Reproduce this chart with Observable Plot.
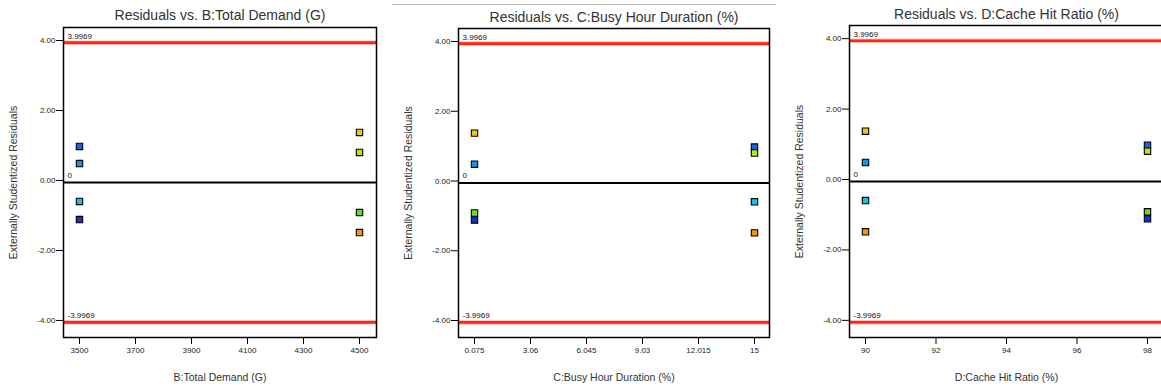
<!DOCTYPE html>
<html>
<head>
<meta charset="utf-8">
<script src="https://cdn.jsdelivr.net/npm/d3@7"></script>
<script src="https://cdn.jsdelivr.net/npm/@observablehq/plot@0.6"></script>
<style>
  html, body { margin: 0; padding: 0; background: #fff; overflow: hidden; }
  #wrap { position: relative; width: 1161px; height: 387px; overflow: hidden; }
  .panel { position: absolute; top: 0; }
  .panel svg { max-width: none !important; }
  .topline { position: absolute; top: 4px; left: 392px; width: 384px; height: 1px; background: #b8b8b8; }
</style>
</head>
<body>
<div id="wrap"><div class="topline"></div></div>
<script>
// ---- data (8 runs) ----
const runIds      = [1, 2, 3, 4, 5, 6, 7, 8];
const residuals   = [1.03, 0.54, -0.54, -1.06, 1.43, 0.86, -0.86, -1.43];
const totalDemand = [3500, 3500, 3500, 3500, 4500, 4500, 4500, 4500];
const busyHour    = [15, 0.075, 15, 0.075, 0.075, 15, 0.075, 15];
const cacheHit    = [98, 90, 90, 98, 90, 98, 98, 90];
const runColors   = ["#1464e6", "#1496e6", "#14c3e6", "#1432d8", "#f0c814", "#b4e614", "#64dc28", "#f09614"];
const limits      = [3.9969, -3.9969];
const yTicks      = [-4, -2, 0, 2, 4];
const demandTicks = [3500, 3700, 3900, 4100, 4300, 4500];
const busyTicks   = [0.075, 3.06, 6.045, 9.03, 12.015, 15];
const cacheTicks  = [90, 92, 94, 96, 98];
const titles      = ["Residuals vs. B:Total Demand (G)", "Residuals vs. C:Busy Hour Duration (%)", "Residuals vs. D:Cache Hit Ratio (%)"];
const xLabels     = ["B:Total Demand (G)", "C:Busy Hour Duration (%)", "D:Cache Hit Ratio (%)"];
const yLabel      = "Externally Studentized Residuals";

const runs = runIds.map((id, i) => ({
  id, res: residuals[i], B: totalDemand[i], C: busyHour[i], D: cacheHit[i], color: runColors[i]
}));

const font = "'Liberation Sans', Arial, sans-serif";

const panels = [
  {left: 0,   width: 390, ml: 63, mr: 14, mt: 27, mb: 50, xdom: [3442.9, 4560.7], key: "B", ticks: demandTicks, title: titles[0], xl: xLabels[0], tdy: -12},
  {left: 390, width: 390, ml: 68, mr: 11, mt: 28, mb: 50, xdom: [-0.778, 15.80], key: "C", ticks: busyTicks, title: titles[1], xl: xLabels[1], tdy: -11},
  {left: 780, width: 390, ml: 69, mr: 7,  mt: 25, mb: 50, xdom: [89.546, 98.454], key: "D", ticks: cacheTicks, title: titles[2], xl: xLabels[2], tdy: -11}
];

const wrap = document.getElementById("wrap");

for (const p of panels) {
  const chart = Plot.plot({
    width: p.width,
    height: 387,
    marginLeft: p.ml, marginRight: p.mr, marginTop: p.mt, marginBottom: p.mb,
    style: {fontFamily: font, fontSize: "8px", color: "#222", background: "transparent", overflow: "visible", maxWidth: "none"},
    x: {domain: p.xdom},
    y: {domain: [-4.43, 4.43]},
    marks: [
      Plot.ruleY(limits, {stroke: "#ffbcb4", strokeWidth: 4.5}),
      Plot.ruleY(limits, {stroke: "#ff2414", strokeWidth: 2.6}),
      Plot.ruleY([0], {stroke: "#000", strokeWidth: 2}),
      Plot.frame({stroke: "#000", strokeWidth: 1.5}),
      Plot.axisX({ticks: p.ticks, tickFormat: d => String(d), tickSize: 7, tickPadding: 3, label: null, stroke: "#000", fill: "#222", fontSize: 8}),
      Plot.axisY({ticks: yTicks, tickFormat: d => d.toFixed(2), tickSize: 7, tickPadding: 1, label: null, stroke: "#000", fill: "#222", fontSize: 8, dy: -2}),
      Plot.text(limits, {x: p.xdom[0], y: d => d, text: d => String(d), textAnchor: "start", lineAnchor: "bottom", dx: 4, dy: -4, fontSize: 8, fill: "#111"}),
      Plot.text([0], {x: p.xdom[0], y: d => d, text: d => String(d), textAnchor: "start", lineAnchor: "bottom", dx: 4, dy: -5, fontSize: 8, fill: "#111"}),
      Plot.dot(runs, {x: p.key, y: "res", symbol: "square", r: 3.6, fill: "color", stroke: "#000", strokeWidth: 1.1}),
      Plot.text([p.title], {frameAnchor: "top", dy: p.tdy, lineAnchor: "middle", textAnchor: "middle", fontSize: 14, fill: "#333"}),
      Plot.text([p.xl], {frameAnchor: "bottom", dy: 40, lineAnchor: "middle", textAnchor: "middle", fontSize: 10.5, fill: "#333"}),
      Plot.text([yLabel], {frameAnchor: "left", dx: -50, rotate: -90, lineAnchor: "middle", textAnchor: "middle", fontSize: 10.5, fill: "#333"})
    ]
  });
  const div = document.createElement("div");
  div.className = "panel";
  div.style.left = p.left + "px";
  div.style.width = p.width + "px";
  div.appendChild(chart);
  wrap.appendChild(div);
}
</script>
</body>
</html>
